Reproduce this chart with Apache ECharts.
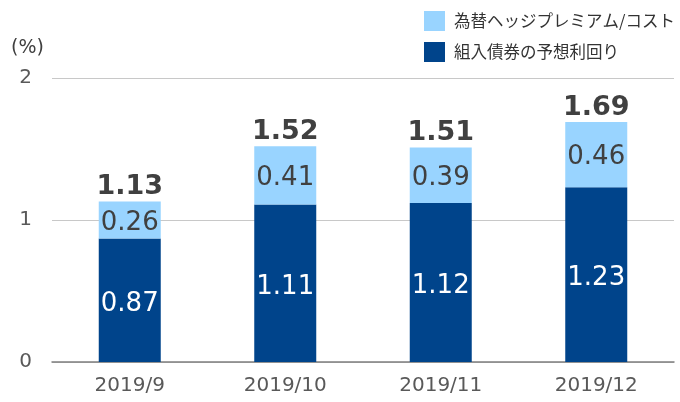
<!DOCTYPE html>
<html>
<head>
<meta charset="utf-8">
<script src="https://cdn.jsdelivr.net/npm/echarts@6/dist/echarts.min.js"></script>
<style>
  html, body { margin: 0; padding: 0; background: #fff; }
  #chart { width: 680px; height: 402px; }
</style>
</head>
<body>
<div id="chart"></div>
<script>
var categories = ['2019/9', '2019/10', '2019/11', '2019/12'];
var yieldValues = [0.87, 1.11, 1.12, 1.23];
var hedgeValues = [0.26, 0.41, 0.39, 0.46];
var totals = [1.13, 1.52, 1.51, 1.69];
var seriesNames = ['為替ヘッジプレミアム/コスト', '組入債券の予想利回り'];

var font = 'Verdana, "DejaVu Sans", "Noto Sans CJK JP", sans-serif';
var chart = echarts.init(document.getElementById('chart'));

var option = {
    animation: false,
    textStyle: {fontFamily: font},
    legend: {
        orient: 'vertical',
        left: 424,
        top: 11,
        padding: 0,
        itemWidth: 21,
        itemHeight: 20,
        itemGap: 11,
        icon: 'rect',
        data: [seriesNames[0], seriesNames[1]],
        textStyle: {fontSize: 16.5, color: '#333', fontFamily: '"Noto Sans CJK JP", sans-serif', padding: [0, 0, 0, 4]}
    },
    grid: {left: 52, right: 6, top: 78, bottom: 40},
    xAxis: {
        type: 'category',
        data: categories,
        axisTick: {show: false},
        axisLine: {lineStyle: {color: '#7f7f7f', width: 1.5}},
        axisLabel: {fontSize: 20, color: '#595959', margin: 14, fontFamily: font}
    },
    yAxis: {
        type: 'value',
        min: 0,
        max: 2,
        interval: 1,
        name: '(%)',
        nameLocation: 'end',
        nameGap: 20,
        nameTextStyle: {fontSize: 19, color: '#404040', align: 'right', padding: [0, 8, 0, 0]},
        axisLine: {show: false},
        axisTick: {show: false},
        splitLine: {lineStyle: {color: '#c8c8c8', width: 1}},
        axisLabel: {fontSize: 20, color: '#595959', margin: 20, fontFamily: font}
    },
    series: [{
        name: seriesNames[1],
        type: 'bar',
        stack: 'total',
        barWidth: 62,
        data: yieldValues,
        itemStyle: {color: '#00448b'},
        label: {show: true, position: 'inside', offset: [0, 4], color: '#fff', fontSize: 26, fontFamily: font,
            formatter: function (p) { return p.value.toFixed(2); }}
    }, {
        name: seriesNames[0],
        type: 'bar',
        stack: 'total',
        barWidth: 62,
        data: hedgeValues,
        itemStyle: {color: '#99d4ff'},
        label: {show: true, position: 'inside', offset: [0, 3], color: '#404040', fontSize: 26, fontFamily: font,
            formatter: function (p) { return p.value.toFixed(2); }}
    }, {
        name: 'total',
        type: 'bar',
        stack: 'total',
        barWidth: 62,
        data: totals.map(function () { return 0; }),
        itemStyle: {color: 'transparent'},
        label: {show: true, position: 'top', distance: 1, color: '#404040', fontSize: 27, fontWeight: 'bold', fontFamily: font,
            formatter: function (p) { return totals[p.dataIndex].toFixed(2); }}
    }]
};
chart.setOption(option);
</script>
</body>
</html>
